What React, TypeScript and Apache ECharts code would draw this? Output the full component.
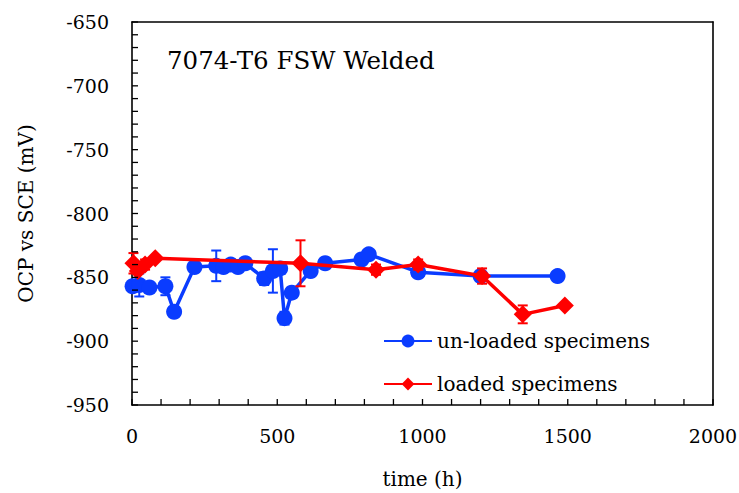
import React, { useEffect, useRef } from "react";
import * as echarts from "echarts";

const unloadedTime = [2, 25, 60, 115, 145, 215, 290, 315, 340, 365, 390, 455, 485, 510, 525, 550, 615, 665, 790, 815, 985, 1200, 1465];
const unloadedOcp = [-857, -856, -858, -857, -877, -842, -841, -842, -840, -842, -839, -851, -845, -843, -882, -862, -845, -839, -836, -832, -846, -849, -849];
const unloadedErr = [0, 9, 0, 7, 0, 0, 12, 0, 4, 0, 3, 5, 17, 0, 5, 4, 4, 4, 0, 0, 0, 4, 0];

const loadedTime = [5, 20, 45, 80, 580, 840, 985, 1205, 1345, 1490];
const loadedOcp = [-839, -845, -840, -835, -839, -844, -840, -849, -879, -872];
const loadedErr = [8, 0, 4, 0, 18, 4, 4, 6, 7, 0];

const X_MIN = 0;
const X_MAX = 2000;
const X_MAJOR = 500;
const X_MINOR = 100;
const Y_MIN = -950;
const Y_MAX = -650;
const Y_MAJOR = 50;
const Y_MINOR = 10;

const BLUE = "#0a3cff";
const RED = "#ff0000";
const FONT = "DejaVu Serif";

function tickValues(min: number, max: number, step: number) {
  const out: number[] = [];
  for (let v = min; v <= max + 1e-9; v += step) out.push(v);
  return out;
}

function errData(t: number[], v: number[], e: number[]) {
  const out: number[][] = [];
  t.forEach((x, i) => {
    if (e[i] > 0) out.push([x, v[i] - e[i], v[i] + e[i]]);
  });
  return out;
}

function errSeries(data: number[][], color: string, z: number) {
  return {
    type: "custom",
    z,
    data,
    encode: { x: 0, y: [1, 2] },
    renderItem: (params: any, api: any) => {
      const x = api.value(0);
      const lo = api.coord([x, api.value(1)]);
      const hi = api.coord([x, api.value(2)]);
      const w = 5;
      const style = { stroke: color, lineWidth: 2 };
      return {
        type: "group",
        children: [
          { type: "line", shape: { x1: lo[0], y1: lo[1], x2: hi[0], y2: hi[1] }, style },
          { type: "line", shape: { x1: lo[0] - w, y1: lo[1], x2: lo[0] + w, y2: lo[1] }, style },
          { type: "line", shape: { x1: hi[0] - w, y1: hi[1], x2: hi[0] + w, y2: hi[1] }, style },
        ],
      };
    },
  };
}

function tickSeries(data: number[][], horizontal: boolean) {
  return {
    type: "custom",
    z: 5,
    silent: true,
    clip: false,
    data,
    encode: { x: 0, y: 1 },
    renderItem: (params: any, api: any) => {
      const p = api.coord([api.value(0), api.value(1)]);
      const len = 6;
      return {
        type: "line",
        shape: horizontal
          ? { x1: p[0], y1: p[1], x2: p[0] + len, y2: p[1] }
          : { x1: p[0], y1: p[1], x2: p[0], y2: p[1] - len },
        style: { stroke: "#000", lineWidth: 1.3 },
      };
    },
  };
}

export default function App() {
  const ref = useRef<HTMLDivElement>(null);
  useEffect(() => {
    if (!ref.current) return;
    const chart = echarts.init(ref.current, null, { renderer: "svg" });
    const axisLabel = { color: "#000", fontFamily: FONT, fontSize: 19, formatter: (v: number) => String(v) };
    const nameTextStyle = { color: "#000", fontFamily: FONT, fontSize: 20 };
    const line = { show: true, onZero: false, lineStyle: { color: "#000", width: 1.6 } };
    const frame = {
      axisLine: line,
      axisTick: { show: false },
      minorTick: { show: false },
      axisLabel: { show: false },
      splitLine: { show: false },
    };
    const xTicks = tickValues(X_MIN, X_MAX, X_MINOR).map((v) => [v, Y_MIN]);
    const yTicks = tickValues(Y_MIN, Y_MAX, Y_MINOR).map((v) => [X_MIN, v]);
    chart.setOption({
      animation: false,
      backgroundColor: "#fff",
      grid: { left: 132, top: 22, right: 26, bottom: 88, containLabel: false, outerBoundsMode: "none" },
      title: {
        text: "7074-T6 FSW Welded",
        left: 162,
        top: 43,
        textStyle: { fontFamily: FONT, fontSize: 24.5, fontWeight: "normal", color: "#000" },
      },
      legend: {
        data: ["un-loaded specimens", "loaded specimens"],
        orient: "vertical",
        left: 378,
        top: 326,
        itemWidth: 48,
        itemHeight: 16,
        itemGap: 23,
        textStyle: { fontFamily: FONT, fontSize: 20, color: "#000" },
      },
      xAxis: [
        {
          type: "value",
          position: "bottom",
          min: X_MIN,
          max: X_MAX,
          interval: X_MAJOR,
          name: "time (h)",
          nameLocation: "middle",
          nameGap: 64,
          nameTextStyle,
          axisLine: line,
          axisTick: { show: false },
          splitLine: { show: false },
          axisLabel: { ...axisLabel, margin: 21 },
        },
        { type: "value", position: "top", min: X_MIN, max: X_MAX, ...frame },
      ],
      yAxis: [
        {
          type: "value",
          position: "left",
          min: Y_MIN,
          max: Y_MAX,
          interval: Y_MAJOR,
          name: "OCP vs SCE (mV)",
          nameLocation: "middle",
          nameGap: 96,
          nameTextStyle,
          axisLine: line,
          axisTick: { show: false },
          splitLine: { show: false },
          axisLabel: { ...axisLabel, margin: 23 },
        },
        { type: "value", position: "right", min: Y_MIN, max: Y_MAX, ...frame },
      ],
      series: [
        tickSeries(xTicks, false),
        tickSeries(yTicks, true),
        {
          name: "un-loaded specimens",
          type: "line",
          z: 2,
          data: unloadedTime.map((t, i) => [t, unloadedOcp[i]]),
          symbol: "circle",
          symbolSize: 16,
          itemStyle: { color: BLUE },
          lineStyle: { color: BLUE, width: 3.5 },
        },
        errSeries(errData(unloadedTime, unloadedOcp, unloadedErr), BLUE, 1),
        {
          name: "loaded specimens",
          type: "line",
          z: 4,
          data: loadedTime.map((t, i) => [t, loadedOcp[i]]),
          symbol: "diamond",
          symbolSize: 18,
          itemStyle: { color: RED },
          lineStyle: { color: RED, width: 3.5 },
        },
        errSeries(errData(loadedTime, loadedOcp, loadedErr), RED, 3),
      ],
    });
    return () => chart.dispose();
  }, []);
  return <div ref={ref} style={{ position: "absolute", left: 0, top: 0, width: 739, height: 493 }} />;
}
